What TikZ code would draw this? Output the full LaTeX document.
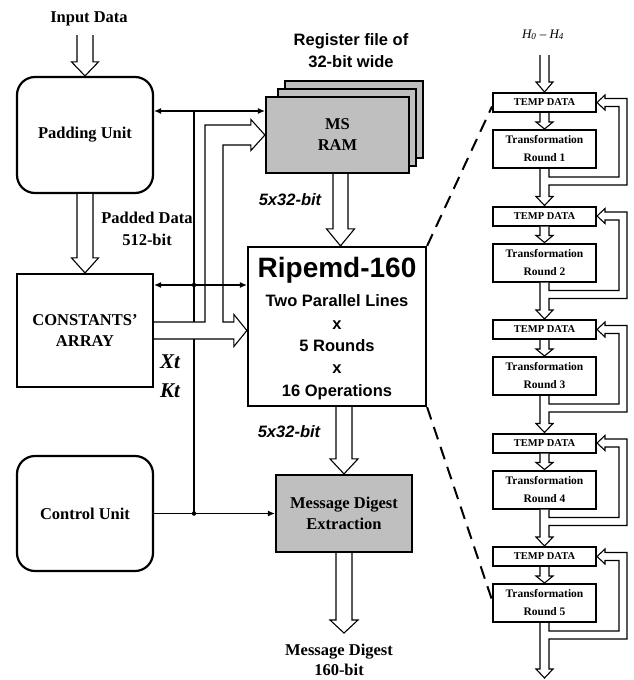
\documentclass[tikz,border=0pt]{standalone}
\usepackage{fontspec}
\setmainfont{Liberation Serif}
\setsansfont{Liberation Sans}
\usetikzlibrary{calc,arrows.meta}
\tikzset{
  blk/.style={draw, line width=2.2pt, inner sep=0pt, align=center, font=\fontsize{16.5}{21}\selectfont\bfseries},
  rblk/.style={blk, rounded corners=18pt},
  gblk/.style={blk, fill=black!25},
  pblk/.style={draw, line width=2pt, inner sep=0pt, minimum width=103pt, align=center},
  tmpbox/.style={pblk, minimum height=19pt, font=\fontsize{10.5}{12}\selectfont\bfseries},
  trfbox/.style={pblk, minimum height=38pt, font=\fontsize{11.5}{18}\selectfont\bfseries},
  hollowarrow/.style={draw, fill=white, line width=1.1pt, line join=miter},
  ctl/.style={line width=1.1pt},
  arrowend/.style={-{Latex[length=7pt,width=6pt]}},
  arrowboth/.style={{Latex[length=7pt,width=6pt]}-{Latex[length=7pt,width=6pt]}},
  lbl/.style={inner sep=0pt, anchor=base},
  serlbl/.style={lbl, font=\fontsize{16.5}{20}\selectfont\bfseries},
  sanlbl/.style={lbl, font=\sffamily\bfseries\fontsize{16.5}{20}\selectfont},
  widlbl/.style={lbl, font=\sffamily\bfseries\itshape\fontsize{16.5}{20}\selectfont},
  dashline/.style={line width=2pt, dash pattern=on 13pt off 8pt},
  jdot/.style={circle, fill, inner sep=0pt, minimum size=4.5pt},
}
% hollow arrow pointing down: #1 start, #2 tip, #3 half shaft, #4 half head, #5 head length
\newcommand\hdown[5]{\filldraw[hollowarrow] let \p1=(#1), \p2=(#2) in
  (\x2-#3pt,\y1) -- (\x2-#3pt,\y2+#5pt) -- (\x2-#4pt,\y2+#5pt) -- (\x2,\y2) --
  (\x2+#4pt,\y2+#5pt) -- (\x2+#3pt,\y2+#5pt) -- (\x2+#3pt,\y1);}
% round -> next temp with feedback to own temp
\newcommand\feedarrow[3]{\filldraw[hollowarrow] let \p1=(#1.south), \p2=(#2.east), \p3=(#3) in
  (\x3-4.5pt,\y1) -- (\x3-4.5pt,\y3+9pt) -- (\x3-8.5pt,\y3+9pt) -- (\x3,\y3) --
  (\x3+8.5pt,\y3+9pt) -- (\x3+4.5pt,\y3+9pt) -- (\x3+4.5pt,\y1-16pt) --
  (\x2+30pt,\y1-16pt) -- (\x2+30pt,\y2+4pt) -- (\x2+8pt,\y2+4pt) -- (\x2+8pt,\y2+7.5pt) --
  (\x2,\y2) -- (\x2+8pt,\y2-7.5pt) -- (\x2+8pt,\y2-4pt) -- (\x2+22pt,\y2-4pt) --
  (\x2+22pt,\y1-8pt) -- (\x3+4.5pt,\y1-8pt) -- (\x3+4.5pt,\y1);}
\begin{document}
\begin{tikzpicture}[x=1pt,y=-1pt]
\useasboundingbox (0,0) rectangle (634,680);
% left column
\node[rblk, minimum width=136pt, minimum height=116pt] (pad) at (85,135) {Padding Unit};
\node[blk, minimum width=136pt, minimum height=113pt] (const) at (85,330.5) {CONSTANTS'\\ARRAY};
\node[rblk, minimum width=136pt, minimum height=115pt] (ctrl) at (85,513.5) {Control Unit};
% MS RAM stack
\draw[line width=2.2pt, fill=black!25] (285,81) rectangle (423,158);
\draw[line width=2.2pt, fill=black!25] (278,89) rectangle (416,166);
\node[gblk, minimum width=143pt, minimum height=76pt] (msram) at (337.5,135) {MS\\RAM};
% Ripemd
\node[blk, minimum width=178pt, minimum height=159pt] (ripemd) at (337,326.5) {};
\node[lbl, font=\sffamily\bfseries\fontsize{28}{30}\selectfont] (rp1) at (337,277) {Ripemd-160};
\node[sanlbl] (rp2) at (337,306) {Two Parallel Lines};
\node[sanlbl] (rp3) at (337,329) {x};
\node[sanlbl] (rp4) at (337,351) {5 Rounds};
\node[sanlbl] (rp5) at (337,373) {x};
\node[sanlbl] (rp6) at (337,396) {16 Operations};
% MDE
\node[gblk, minimum width=136pt, minimum height=77pt] (mde) at (344,513.5) {Message Digest\\Extraction};
% pipeline
\foreach \i in {0,...,4} {
  \pgfmathsetmacro\ty{102.5+113.5*\i}
  \pgfmathsetmacro\ry{149+113.5*\i}
  \pgfmathtruncatemacro\n{\i+1}
  \node[tmpbox] (t\i) at (544.5,\ty) {TEMP DATA};
  \node[trfbox] (r\i) at (544.5,\ry) {Transformation\\Round \n};
}
% labels
\node[serlbl] (inlbl) at (89,22) {Input Data};
\node[serlbl] (pd1) at (147,223) {Padded Data};
\node[serlbl] (pd2) at (147,245) {512-bit};
\node[sanlbl] (rf1) at (351,45) {Register file of};
\node[sanlbl] (rf2) at (351,67) {32-bit wide};
\node[widlbl] (w1) at (290,205) {5x32-bit};
\node[widlbl] (w2) at (289,437) {5x32-bit};
\node[lbl, font=\bfseries\itshape\fontsize{21}{24}\selectfont] (xt) at (170,368) {Xt};
\node[lbl, font=\bfseries\itshape\fontsize{21}{24}\selectfont] (kt) at (170,397) {Kt};
\node[lbl, font=\itshape\fontsize{13}{15}\selectfont] (hh) at (543,38) {H\textsubscript{0} – H\textsubscript{4}};
\node[serlbl] (mo1) at (339,655) {Message Digest};
\node[serlbl] (mo2) at (339,675) {160-bit};
% hollow arrows
\coordinate (inp) at (86,35);
\hdown{inp}{pad.north}{8}{13.5}{14}
\hdown{pad.south}{const.north}{8}{13.5}{15}
\coordinate (mstip) at ($(ripemd.north)+(3.5,0)$);
\hdown{msram.south}{mstip}{7.5}{14}{17}
\hdown{ripemd.south}{mde.north}{8}{14}{15}
\coordinate (mdout) at (344,633);
\hdown{mde.south}{mdout}{8}{14}{13}
% pipeline arrows
\coordinate (hin) at (544.5,55);
\hdown{hin}{t0.north}{4.5}{8.5}{10}
\foreach \i in {0,...,4} {
  \hdown{t\i.south}{r\i.north}{4.5}{8.5}{7}
}
\foreach \i [evaluate=\i as \j using int(\i+1)] in {0,...,3} {
  \feedarrow{r\i}{t\i}{t\j.north}
}
\coordinate (outend) at (544.5,678);
\feedarrow{r4}{t4}{outend}
% control bus
\coordinate (bA) at (194,111);
\coordinate (bB) at (194,285);
\coordinate (bC) at (194,513.5);
\draw[ctl] (bA) -- (bC);
% split hollow arrow from constants
\filldraw[hollowarrow] let \p1=(const.east), \p2=(msram.west), \p3=(ripemd.west) in
  (\x1,\y1+8.5pt) -- (205pt,\y1+8.5pt) -- (205pt,\y2+10pt) -- (\x2-14pt,\y2+10pt) --
  (\x2-14pt,\y2+15.5pt) -- (\x2,\y2) -- (\x2-14pt,\y2-15.5pt) -- (\x2-14pt,\y2-10pt) --
  (223pt,\y2-10pt) -- (223pt,\y1+8.5pt) -- (\x3-13pt,\y1+8.5pt) -- (\x3-13pt,\y1+16pt) --
  (\x3,\y1) -- (\x3-13pt,\y1-16pt) -- (\x3-13pt,\y1-8.5pt) -- (\x1,\y1-8.5pt);
\draw[ctl, arrowboth] ($(pad.east)+(0,-24)$) -- ($(msram.west)+(0,-24)$);
\draw[ctl, arrowboth] (const.east |- bB) -- (ripemd.west |- bB);
\draw[ctl, arrowend] (ctrl.east) -- (mde.west);
\node[jdot] (d1) at (bB) {};
\node[jdot] (d2) at (bC) {};
% dashed zoom lines
\draw[dashline] (ripemd.north east) -- ($(t0.west)+(0,4)$);
\draw[dashline] (ripemd.south east) -- ($(r4.west)+(0,-3)$);
\end{tikzpicture}
\end{document}
